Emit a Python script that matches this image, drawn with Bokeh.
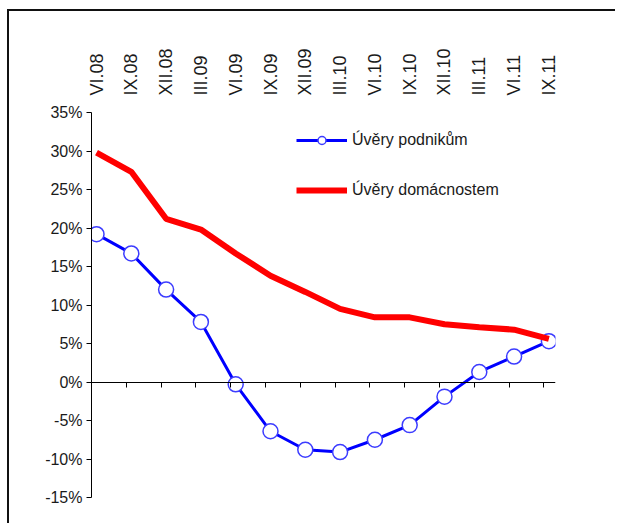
from bokeh.plotting import figure
from bokeh.models import (ColumnDataSource, FixedTicker, LinearAxis, Legend, LegendItem,
                          PrintfTickFormatter, Range1d)
from bokeh.embed import file_html
from bokeh.resources import INLINE

categories = ["VI.08", "IX.08", "XII.08", "III.09", "VI.09", "IX.09", "XII.09",
              "III.10", "VI.10", "IX.10", "XII.10", "III.11", "VI.11", "IX.11"]
uvery_podnikum = [19.2, 16.7, 12.0, 7.8, -0.3, -6.4, -8.8, -9.1, -7.5, -5.6, -1.9, 1.3, 3.3, 5.3]
uvery_domacnostem = [29.8, 27.3, 21.2, 19.8, 16.7, 13.8, 11.7, 9.5, 8.4, 8.4, 7.5, 7.1, 6.8, 5.6]
y_ticks = [-15, -10, -5, 0, 5, 10, 15, 20, 25, 30, 35]

x = list(range(len(categories)))
src = ColumnDataSource(dict(x=x, p=uvery_podnikum, d=uvery_domacnostem))

TICK_SHIFT = -0.144

p = figure(width=608, height=514, output_backend="svg", toolbar_location=None,
           x_range=Range1d(TICK_SHIFT, len(categories) - 1 + 0.19),
           y_range=Range1d(min(y_ticks), max(y_ticks)),
           x_axis_location="above",
           min_border_left=82, min_border_right=62, min_border_top=101, min_border_bottom=28)
p.outline_line_color = None
p.grid.visible = False
p.background_fill_color = "white"
p.border_fill_color = "white"
p.styles = {"margin-left": "9px", "margin-top": "11px",
            "box-shadow": "-2px -2px 0 0 #111"}

label_font = "Liberation Sans"

# top category labels
xa = p.xaxis[0]
xa.ticker = FixedTicker(ticks=x)
xa.major_label_overrides = {i: c for i, c in enumerate(categories)}
xa.major_label_orientation = 1.5708
xa.axis_line_color = None
xa.major_tick_line_color = None
xa.minor_tick_line_color = None
xa.major_tick_out = 0
xa.major_tick_in = 0
xa.major_label_standoff = 17
xa.major_label_text_font = label_font
xa.major_label_text_font_size = "18px"
xa.major_label_text_color = "#1a1a1a"

# y axis
ya = p.yaxis[0]
ya.ticker = FixedTicker(ticks=y_ticks)
ya.formatter = PrintfTickFormatter(format="%d%%")
ya.axis_line_color = "black"
ya.major_tick_line_color = "black"
ya.minor_tick_line_color = None
ya.major_tick_out = 5
ya.major_tick_in = 0
ya.major_label_standoff = 4
ya.major_label_text_font = label_font
ya.major_label_text_font_size = "16px"
ya.major_label_text_color = "#1a1a1a"

# category axis at zero
zero_axis = LinearAxis(fixed_location=0,
                       ticker=FixedTicker(ticks=[i + TICK_SHIFT for i in x]),
                       axis_line_color="black", major_tick_line_color="black",
                       minor_tick_line_color=None, major_tick_in=0, major_tick_out=5,
                       major_label_text_color=None, major_label_text_font_size="1px")
p.add_layout(zero_axis, "below")

bl = p.line("x", "p", source=src, line_color="#0000ff", line_width=3)
bs = p.scatter("x", "p", source=src, size=15, fill_color="white",
               line_color="#3c3cff", line_width=1.5)
rl = p.line("x", "d", source=src, line_color="#ff0000", line_width=6)

legend = Legend(items=[LegendItem(label="Úvěry podnikům", renderers=[bl, bs]),
                       LegendItem(label="Úvěry domácnostem", renderers=[rl])],
                location=(205, 297), orientation="vertical",
                glyph_width=51, glyph_height=20, label_height=20, label_standoff=5,
                spacing=30, padding=0, margin=0,
                border_line_color=None, background_fill_alpha=0,
                label_text_font=label_font, label_text_font_size="16px",
                label_text_color="#1a1a1a")
p.add_layout(legend)

open("out.html", "w").write(file_html(p, INLINE))
